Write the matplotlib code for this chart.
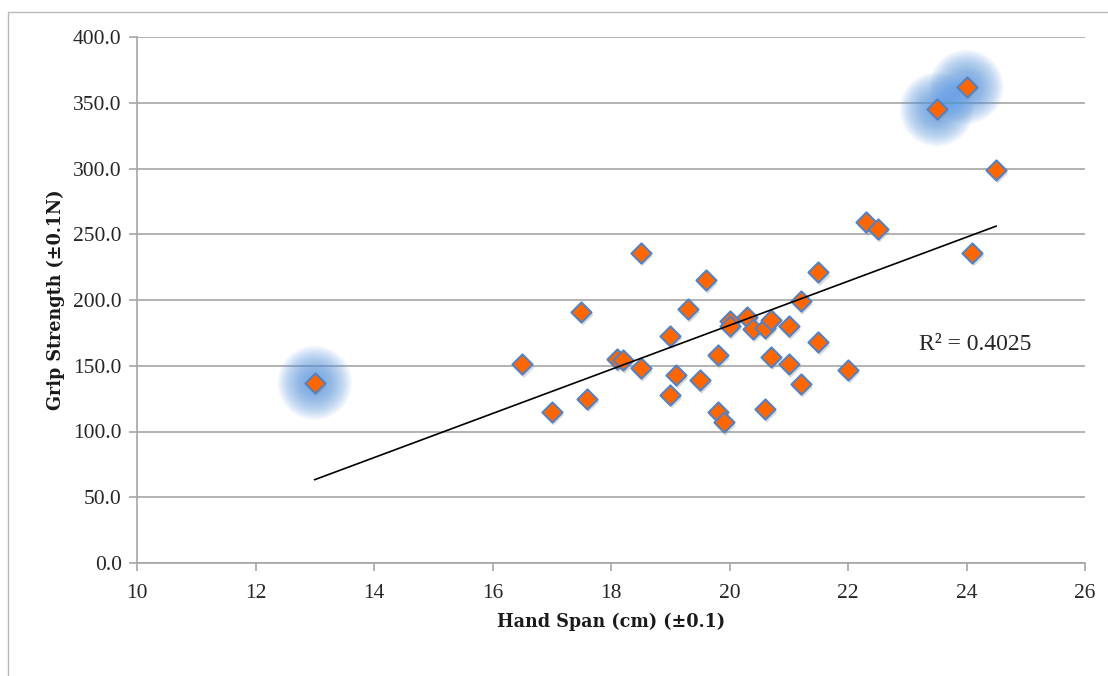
import numpy as np
import matplotlib.pyplot as plt
from matplotlib.patches import Rectangle

hand_span = [13.0, 16.5, 17.0, 17.5, 17.6, 18.1, 18.2, 18.5, 18.5, 19.0, 19.0, 19.1,
             19.3, 19.5, 19.6, 19.8, 19.8, 19.9, 20.0, 20.0, 20.3, 20.4, 20.6, 20.6,
             20.7, 20.7, 21.0, 21.0, 21.2, 21.2, 21.5, 21.5, 22.0, 22.3, 22.5, 23.5,
             24.0, 24.1, 24.5]
grip_strength = [137, 151, 115, 191, 125, 155, 154, 148, 236, 173, 128, 143,
                 193, 139, 215, 158, 115, 107, 184, 180, 187, 178, 179, 117,
                 185, 157, 180, 151, 136, 199, 221, 168, 147, 259, 254, 345,
                 362, 236, 299]
highlighted_x = [13.0, 23.5, 24.0]
highlighted_y = [137, 345, 362]

x_ticks = [10, 12, 14, 16, 18, 20, 22, 24, 26]
y_ticks = [0, 50, 100, 150, 200, 250, 300, 350, 400]

fig = plt.figure(figsize=(11.08, 6.76), dpi=100)
ax = fig.add_axes([137/1108, 1-563/676, (1085-137)/1108, (563-37)/676])

# outer frame
fig.patches.append(Rectangle((8/1108, -0.05), 1.2, 1-12/676+0.05, transform=fig.transFigure,
                             fill=False, edgecolor='#b8b8b8', linewidth=1.0))

grid_c = '#a6a6a6'
ax.set_xlim(10, 26)
ax.set_ylim(0, 400)
ax.set_xticks(x_ticks)
ax.set_yticks(y_ticks)
ax.set_yticklabels([f"{v:.1f}" for v in y_ticks])
ax.set_xticklabels([str(v) for v in x_ticks])
ax.yaxis.grid(True, color=grid_c, linewidth=1.2)
ax.set_axisbelow(True)
for s in ['top', 'right']:
    ax.spines[s].set_visible(False)
for s in ['left', 'bottom']:
    ax.spines[s].set_color(grid_c)
    ax.spines[s].set_linewidth(1.2)
ax.tick_params(axis='both', direction='out', color=grid_c, width=1.2, length=6,
               labelsize=15.5, labelcolor='#262626')
ax.tick_params(axis='y', pad=5)
ax.tick_params(axis='x', pad=9)
for lab in ax.get_xticklabels() + ax.get_yticklabels():
    lab.set_family('Liberation Serif')

# glow highlights (soft)
diams = np.linspace(54, 6, 45)  # points
for hx, hy in zip(highlighted_x, highlighted_y):
    for d in diams:
        ax.scatter([hx], [hy], s=d**2, color='#5b9be6', alpha=0.03,
                   edgecolors='none', zorder=1)

# shadows
ax.scatter(np.array(hand_span)+0.03, np.array(grip_strength)-2.5, marker='D', s=110,
           color='#999999', alpha=0.35, edgecolors='none', zorder=2)
ax.scatter(hand_span, grip_strength, marker='D', s=105, facecolor='#ff6600',
           edgecolor='#5581c1', linewidth=1.5, zorder=3)

# trendline
slope, intercept = np.polyfit(hand_span, grip_strength, 1)
xs = np.array([min(hand_span), max(hand_span)])
ax.plot(xs, slope*xs+intercept, color='black', linewidth=1.2, zorder=4)

ax.text(23.2, 166, "R² = 0.4025", fontsize=17, family='Liberation Serif',
        color='#262626', va='center')

ax.set_xlabel("Hand Span (cm) (±0.1)", fontsize=14, fontweight='bold',
              family='DejaVu Serif', fontstretch='condensed', labelpad=7, color='#1a1a1a')
ax.set_ylabel("Grip Strength (±0.1N)", fontsize=14, fontweight='bold',
              family='DejaVu Serif', fontstretch='condensed', labelpad=6, color='#1a1a1a')
fig.savefig('out.png', dpi=100)
